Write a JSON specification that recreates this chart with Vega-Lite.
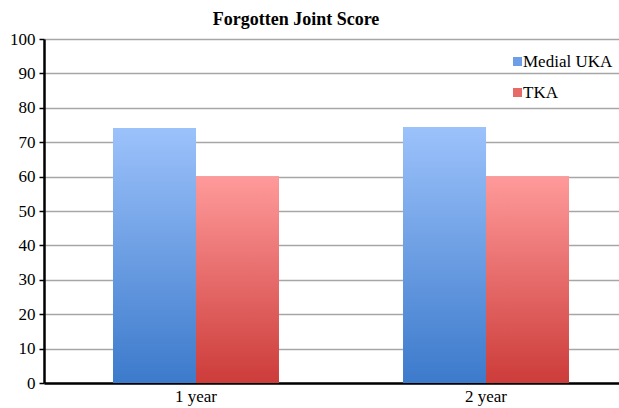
{
  "$schema": "https://vega.github.io/schema/vega-lite/v6.json",
  "autosize": {"type": "none"},
  "padding": {"left": 44, "top": 39, "right": 0, "bottom": 25},
  "width": 594,
  "height": 344,
  "background": "white",
  "title": {"text": "Forgotten Joint Score", "font": "Liberation Serif", "fontSize": 18, "fontWeight": "bold", "color": "black", "anchor": "middle", "dx": -45, "offset": 1},
  "data": {"values": [
    {"period": "1 year", "group": "Medial UKA", "score": 74.1},
    {"period": "1 year", "group": "TKA", "score": 60},
    {"period": "2 year", "group": "Medial UKA", "score": 74.4},
    {"period": "2 year", "group": "TKA", "score": 60}
  ]},
  "encoding": {
    "x": {"field": "period", "type": "nominal", "title": null,
      "scale": {"paddingInner": 0.428, "paddingOuter": 0.238},
      "axis": {"labelAngle": 0, "ticks": false, "domain": true, "domainColor": "black", "domainWidth": 2.5, "labelPadding": 5, "grid": false, "labelFont": "Liberation Serif", "labelFontSize": 17, "labelColor": "black"}},
    "xOffset": {"field": "group", "type": "nominal", "scale": {"domain": ["Medial UKA", "TKA"], "paddingInner": 0, "paddingOuter": 0}},
    "y": {"field": "score", "type": "quantitative", "title": null,
      "scale": {"domain": [0, 100]},
      "axis": {"values": [0,10,20,30,40,50,60,70,80,90,100], "tickColor": "black", "tickSize": 5, "tickWidth": 1.5, "labelPadding": 4, "domainColor": "black", "domainWidth": 2.5, "gridColor": "#a6a6a6", "gridWidth": 1.5, "labelFont": "Liberation Serif", "labelFontSize": 17, "labelColor": "black", "labelFontWeight": "normal"}}
  },
  "layer": [
    {
      "mark": {"type": "bar"},
      "encoding": {
        "color": {"field": "group", "type": "nominal", "title": null,
          "scale": {"domain": ["Medial UKA", "TKA"], "range": ["#6d9ee6", "#e66a68"]},
          "legend": {"orient": "none", "legendX": 465, "legendY": 14, "symbolType": "square", "symbolSize": 81, "symbolStrokeWidth": 0, "symbolOpacity": 1, "labelOffset": -3, "rowPadding": 13, "padding": 0, "labelFont": "Liberation Serif", "labelFontSize": 17, "labelColor": "black"}}
      }
    },
    {
      "transform": [{"filter": "datum.group === 'Medial UKA'"}],
      "mark": {"type": "bar", "fill": {"gradient": "linear", "x1": 0, "y1": 0, "x2": 0, "y2": 1, "stops": [{"offset": 0, "color": "#9cc2fb"}, {"offset": 1, "color": "#3c7acb"}]}}
    },
    {
      "transform": [{"filter": "datum.group === 'TKA'"}],
      "mark": {"type": "bar", "fill": {"gradient": "linear", "x1": 0, "y1": 0, "x2": 0, "y2": 1, "stops": [{"offset": 0, "color": "#ff9a9a"}, {"offset": 1, "color": "#cc3c3a"}]}}
    }
  ],
  "config": {
    "font": "Liberation Serif",
    "view": {"stroke": null},
    "style": {"guide-label": {"font": "Liberation Serif", "fontSize": 17, "fill": "black"}},
    "axis": {"labelFont": "Liberation Serif", "labelFontSize": 17, "labelColor": "black"},
    "legend": {"labelFont": "Liberation Serif", "labelFontSize": 17, "labelColor": "black"}
  }
}
